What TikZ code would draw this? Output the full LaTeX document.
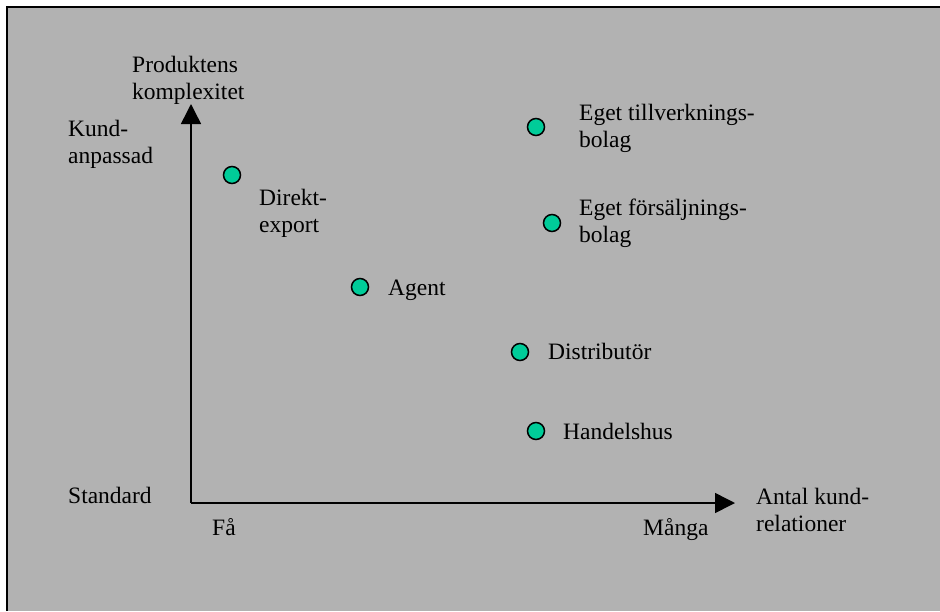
\documentclass[tikz,border=0pt]{standalone}
\usepackage{fontspec}
\setmainfont{Liberation Serif}
\usetikzlibrary{arrows.meta}
\definecolor{panel}{RGB}{178,178,178}
\definecolor{dotfill}{RGB}{0,204,153}
\tikzset{
  axis/.style={line width=1.5pt,-{Triangle[length=20pt,width=20pt]}},
  dot/.style={circle,draw=black,line width=1.5pt,fill=dotfill,minimum size=17pt,inner sep=0pt},
  lbl/.style={anchor=base west,inner sep=0pt,align=left,font=\fontsize{23.5}{27}\selectfont,text=black}
}
\begin{document}
\begin{tikzpicture}[x=1pt,y=-1pt]
  % page and panel
  \useasboundingbox (0,0) rectangle (940,611);
  \fill[white] (0,0) rectangle (940,611);
  \fill[panel] (7,7) rectangle (940,611);
  \draw[line width=2pt] (7,611) -- (7,7) -- (940,7);

  % axes
  \coordinate (O) at (191,503);
  \coordinate (ytip) at (191,104);
  \coordinate (xtip) at (735,503);
  \draw[axis] (O) -- (ytip);
  \draw[axis] (O) -- (xtip);

  % axis labels (two-line labels sit on the baseline of their last line)
  \node[lbl] (ylabel) at (132,99) {Produktens\\komplexitet};
  \node[lbl] (yhigh) at (68,163) {Kund-\\anpassad};
  \node[lbl] (ylow) at (68,503) {Standard};
  \node[lbl] (xlow) at (212,535) {Få};
  \node[lbl] (xhigh) at (643,535) {Många};
  \node[lbl] (xlabel) at (756,531) {Antal kund-\\relationer};

  % market entry modes
  \node[dot] (d1) at (232,175) {};
  \node[lbl] (t1) at (259,232) {Direkt-\\export};
  \node[dot] (d2) at (360,287) {};
  \node[lbl] (t2) at (388,295) {Agent};
  \node[dot] (d3) at (536,127) {};
  \node[lbl] (t3) at (579,147) {Eget tillverknings-\\bolag};
  \node[dot] (d4) at (552,223) {};
  \node[lbl] (t4) at (579,242) {Eget försäljnings-\\bolag};
  \node[dot] (d5) at (520,352) {};
  \node[lbl] (t5) at (548,359) {Distributör};
  \node[dot] (d6) at (536,431) {};
  \node[lbl] (t6) at (563,439) {Handelshus};
\end{tikzpicture}
\end{document}
